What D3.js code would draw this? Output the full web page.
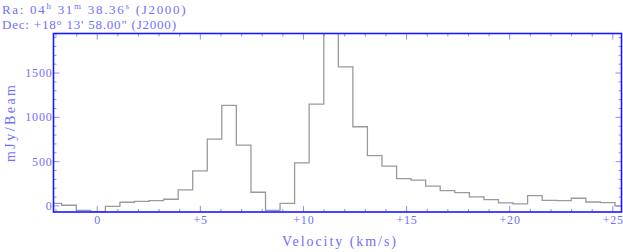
<!DOCTYPE html>
<html><head><meta charset="utf-8">
<script src="https://cdn.jsdelivr.net/npm/d3@7"></script>
<style>
body{margin:0;background:#fff;}
text{font-family:"Liberation Serif","DejaVu Serif",serif;fill:#6f6fff;}
</style></head>
<body><svg id="c" width="623" height="252"></svg>
<script>
const velocities = [-2.08,-1.37,-0.66,0.04,0.75,1.45,2.16,2.86,3.57,4.28,4.98,5.69,6.39,7.10,7.81,8.51,9.22,9.92,10.63,11.34,12.04,12.75,13.45,14.16,14.87,15.57,16.28,16.98,17.69,18.40,19.10,19.81,20.51,21.22,21.93,22.63,23.34,24.04,24.75,25.46];
const flux = [30,8,-49,-64,-4,42,53,60,76,181,396,754,1135,686,155,-49,30,486,1150,2050,1569,894,569,449,309,291,223,173,151,102,71,34,23,117,64,60,87,45,37,0];
const xTickValues = [0,5,10,15,20,25];
const xTickLabels = ["0","+5","+10","+15","+20","+25"];
const yTickValues = [0,500,1000,1500];
const yTickLabels = ["0","500","1000","1500"];
const raText = ["Ra: 04","h"," 31","m"," 38.36","s"," (J2000)"];
const decText = "Dec: +18\u00b0 13' 58.00\" (J2000)";
const xLabel = "Velocity (km/s)";
const yLabel = "mJy/Beam";

const svg = d3.select("#c");
const L=53.5, R=621.5, T=33.5, B=212;
const x = d3.scaleLinear().domain([-2.12,25.42]).range([L,R]);
const y = d3.scaleLinear().domain([-68,1946]).range([B,T]);

svg.append("clipPath").attr("id","clip").append("rect")
  .attr("x",L).attr("y",T).attr("width",R-L).attr("height",B-T);

// step edges
const pts = [];
velocities.forEach((v,i)=>{
  const prev = i>0 ? (velocities[i-1]+v)/2 : v-(velocities[1]-velocities[0])/2;
  pts.push([prev, flux[i]]);
});
const n=velocities.length;
pts.push([velocities[n-1]+(velocities[n-1]-velocities[n-2])/2, flux[n-1]]);
const line = d3.line().x(d=>x(d[0])).y(d=>y(d[1])).curve(d3.curveStepAfter);
svg.append("path").attr("d",line(pts)).attr("fill","none")
  .attr("stroke","#9a9a9a").attr("stroke-width",1.3).attr("clip-path","url(#clip)");

// ticks
const tickCol="#8c8cff";
const xMinor = d3.range(-2,26,1);
const yMinor = d3.range(0,2000,100);
const g = svg.append("g").attr("stroke",tickCol).attr("stroke-width",1);
xMinor.forEach(v=>{
  const len = (v%5===0)?6:3;
  g.append("line").attr("x1",x(v)).attr("x2",x(v)).attr("y1",B).attr("y2",B-len);
  g.append("line").attr("x1",x(v)).attr("x2",x(v)).attr("y1",T).attr("y2",T+len);
});
yMinor.filter(v=>y(v)>T).forEach(v=>{
  const len = (v%500===0)?6:3;
  g.append("line").attr("x1",L).attr("x2",L+len).attr("y1",y(v)).attr("y2",y(v));
  g.append("line").attr("x1",R).attr("x2",R-len).attr("y1",y(v)).attr("y2",y(v));
});

// frame
svg.append("rect").attr("x",L).attr("y",T).attr("width",R-L).attr("height",B-T)
  .attr("fill","none").attr("stroke","#1a1aff").attr("stroke-width",1.6);

// tick labels
xTickValues.forEach((v,i)=>{
  svg.append("text").attr("x",x(v)+0.4).attr("y",223.5).attr("text-anchor","middle")
    .attr("font-size",12).attr("letter-spacing",0.8).text(xTickLabels[i]);
});
yTickValues.forEach((v,i)=>{
  svg.append("text").attr("x",52.5).attr("y",y(v)+4).attr("text-anchor","end")
    .attr("font-size",12).attr("letter-spacing",0.8).text(yTickLabels[i]);
});
svg.append("text").attr("x",282).attr("y",246)
  .attr("font-size",14).attr("textLength",114).attr("lengthAdjust","spacing").text(xLabel);
svg.append("text").attr("transform","translate(15,162) rotate(-90)")
  .attr("font-size",14).attr("textLength",77).attr("lengthAdjust","spacing").text(yLabel);

// header
const ra = svg.append("text").attr("x",2).attr("y",14).attr("font-size",13);
raText.forEach((t,i)=>{
  const sup = i%2===1;
  ra.append("tspan").attr("font-size",sup?9:13).attr("letter-spacing",1.7)
    .attr("dy",sup?-5:(i>0?5:0)).text(t);
});
svg.append("text").attr("x",2).attr("y",28.5).attr("font-size",13)
  .attr("textLength",174).attr("lengthAdjust","spacing").text(decText);
</script></body></html>
